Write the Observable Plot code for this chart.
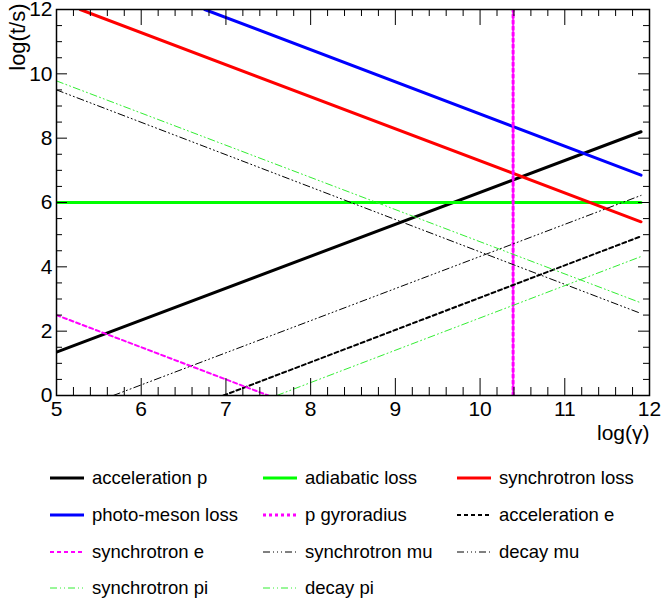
<!DOCTYPE html>
<html>
<head>
<meta charset="utf-8">
<script src="https://cdn.jsdelivr.net/npm/d3@7"></script>
<script src="https://cdn.jsdelivr.net/npm/@observablehq/plot@0.6"></script>
<style>
  html, body { margin: 0; padding: 0; background: #fff; }
  body { width: 663px; height: 603px; overflow: hidden; font-family: "Liberation Sans", Arial, Helvetica, sans-serif; color: #000; }
  #legend { position: relative; width: 663px; height: 153px; }
  .item { position: absolute; display: flex; align-items: center; height: 24px; font-size: 18.5px; white-space: nowrap; }
  .item svg { margin-right: 8px; flex: none; }
</style>
</head>
<body>
<div id="chart"></div>
<div id="legend"></div>
<script>
// ---- data ----
const seriesNames = [
  "acceleration p", "adiabatic loss", "synchrotron loss",
  "photo-meson loss", "p gyroradius", "acceleration e",
  "synchrotron e", "synchrotron mu", "decay mu",
  "synchrotron pi", "decay pi"
];
// straight lines in log-log: visible start / end points, log(γ) and log(t/s)
const xStart = [5.00, 5.00, 5.28, 6.75, 10.39, 6.97, 5.00, 5.00, 5.67, 5.00, 7.60];
const xEnd   = [11.9, 11.9, 11.9, 11.9, 10.39, 11.9, 7.50, 11.9, 11.9, 11.9, 11.9];
const yStart = [1.35, 6.00, 12.0, 12.0, 0.00, 0.00, 2.50, 9.50, 0.00, 9.78, 0.00];
const yEnd   = [8.20, 6.00, 5.40, 6.85, 12.0, 4.95, 0.00, 2.55, 6.22, 2.88, 4.32];

const xTickLabels = [5, 6, 7, 8, 9, 10, 11, 12];
const yTickLabels = [0, 2, 4, 6, 8, 10, 12];

// ---- styles ----
const seriesColors = ["#000000", "#00ff00", "#ff0000", "#0000ff", "#ff00ff", "#000000",
                      "#ff00ff", "#000000", "#000000", "#33ee33", "#33ee33"];
const seriesWidths = [3, 3, 3, 3, 3, 2, 2, 1, 1, 1, 1];
const seriesDashes = [null, null, null, null, "3,3", "4,3", "4,3",
                      "7,3,1,3,1,3,1,3", "7,3,1,3,1,3,1,3", "7,3,1,3,1,3", "7,3,1,3,1,3"];

const W = 663, H = 450;
const mL = 56, mR = 14, mT = 9, mB = 55;
const plotW = W - mL - mR, plotH = H - mT - mB;

const rows = seriesNames.flatMap((name, i) => [
  {name, i, x: xStart[i], y: yStart[i]},
  {name, i, x: xEnd[i], y: yEnd[i]}
]);

const near = (v) => Math.abs(v - Math.round(v)) < 1e-6;
const xMinor = d3.range(5, 12.001, 0.2).map(v => +v.toFixed(2)).filter(v => !near(v));
const yMinor = d3.range(0, 12.001, 0.5).filter(v => v % 2 !== 0);

const lineMarks = seriesNames.map((name, i) =>
  Plot.line(rows.filter(r => r.i === i), {
    x: "x", y: "y", stroke: seriesColors[i], strokeWidth: seriesWidths[i],
    strokeDasharray: seriesDashes[i] ?? undefined, clip: true
  })
);

const chart = Plot.plot({
  width: W, height: H,
  marginLeft: mL, marginRight: mR, marginTop: mT, marginBottom: mB,
  style: {fontFamily: '"Liberation Sans", Arial, Helvetica, sans-serif', fontSize: "21px", color: "#000", background: "#fff", overflow: "visible"},
  x: {domain: [5, 12]},
  y: {domain: [0, 12]},
  marks: [
    ...lineMarks,
    // bottom & top ticks (inside)
    Plot.ruleX(xTickLabels, {x: d => d, insetTop: plotH - 17, stroke: "#000"}),
    Plot.ruleX(xMinor, {x: d => d, insetTop: plotH - 8, stroke: "#000"}),
    Plot.ruleX(xTickLabels, {x: d => d, insetBottom: plotH - 16, stroke: "#000"}),
    Plot.ruleX(xMinor, {x: d => d, insetBottom: plotH - 7, stroke: "#000"}),
    // left & right ticks (inside)
    Plot.ruleY(yTickLabels, {y: d => d, insetRight: plotW - 11, stroke: "#000"}),
    Plot.ruleY(yMinor, {y: d => d, insetRight: plotW - 6, stroke: "#000"}),
    Plot.ruleY(yTickLabels, {y: d => d, insetLeft: plotW - 11, stroke: "#000"}),
    Plot.ruleY(yMinor, {y: d => d, insetLeft: plotW - 6, stroke: "#000"}),
    Plot.frame({stroke: "#000", strokeWidth: 1.5}),
    Plot.axisX({ticks: xTickLabels, tickSize: 0, tickPadding: 6, label: null, tickFormat: d => String(d)}),
    Plot.axisY({ticks: yTickLabels, tickSize: 0, tickPadding: 4, label: null, tickFormat: d => String(d)}),
    Plot.text(["log(t/s)"], {text: d => d, frameAnchor: "top-left", rotate: -90, textAnchor: "end",
      dx: -47, dy: -6, fontSize: 22}),
    Plot.text(["log(γ)"], {text: d => d, frameAnchor: "bottom-right", textAnchor: "end",
      lineAnchor: "bottom", dy: 44, fontSize: 21})
  ]
});
document.getElementById("chart").appendChild(chart);

// ---- legend ----
const colLeft = [50, 263, 457];
const rowCenter = [28, 65, 102, 138];
const legend = document.getElementById("legend");
seriesNames.forEach((name, i) => {
  const col = i % 3, row = Math.floor(i / 3);
  const item = document.createElement("div");
  item.className = "item";
  item.style.left = colLeft[col] + "px";
  item.style.top = (rowCenter[row] - 12) + "px";
  const svg = d3.create("svg").attr("width", 34).attr("height", 10);
  svg.append("line").attr("x1", 0).attr("x2", 34).attr("y1", 5).attr("y2", 5)
    .attr("stroke", seriesColors[i]).attr("stroke-width", seriesWidths[i])
    .attr("stroke-dasharray", seriesDashes[i]);
  item.appendChild(svg.node());
  const span = document.createElement("span");
  span.textContent = name;
  item.appendChild(span);
  legend.appendChild(item);
});
</script>
</body>
</html>
